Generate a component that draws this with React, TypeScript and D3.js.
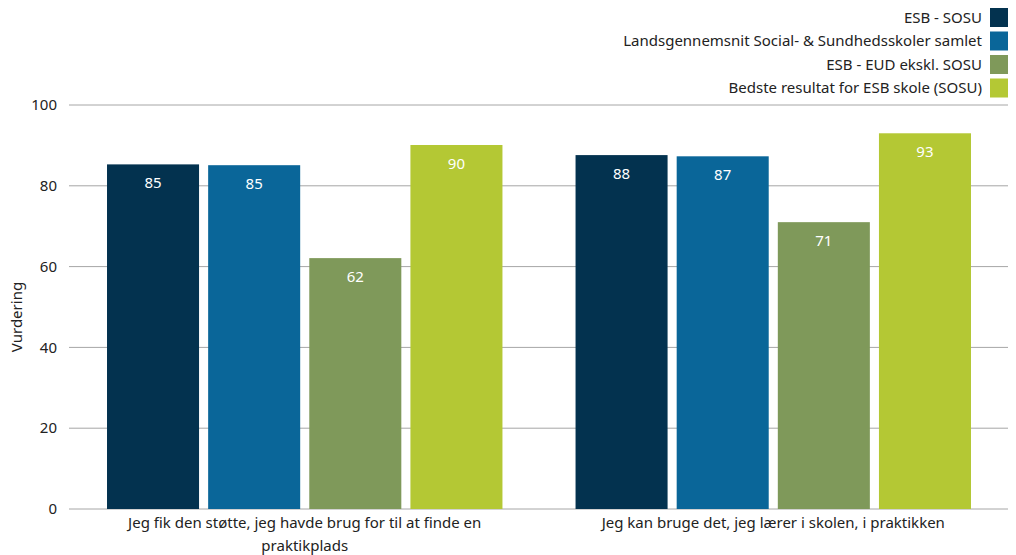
import * as d3 from 'd3'

const categories = [
  ['Jeg fik den støtte, jeg havde brug for til at finde en', 'praktikplads'],
  ['Jeg kan bruge det, jeg lærer i skolen, i praktikken'],
]
const seriesNames = [
  'ESB - SOSU',
  'Landsgennemsnit Social- & Sundhedsskoler samlet',
  'ESB - EUD ekskl. SOSU',
  'Bedste resultat for ESB skole (SOSU)',
]
const esbSosu = [85.3, 87.6]
const landsgennemsnit = [85.1, 87.3]
const esbEud = [62.1, 71.0]
const bedste = [90.1, 93.0]
const yTicks = [0, 20, 40, 60, 80, 100]

const colors = ['#03324f', '#0a6699', '#7f995a', '#b4c834']
const font = "Noto Sans, sans-serif"

export default function App() {
  const width = 1016
  const height = 555
  const margin = { top: 105, right: 8, bottom: 46, left: 70 }
  const series = [esbSosu, landsgennemsnit, esbEud, bedste]

  const x0 = d3.scaleBand<number>()
    .domain(categories.map((_, i) => i))
    .range([margin.left, width - margin.right])
    .paddingInner(0.156)
    .paddingOuter(0.079)
  const x1 = d3.scaleBand<number>()
    .domain(series.map((_, i) => i))
    .range([0, x0.bandwidth()])
    .paddingInner(0.09)
    .paddingOuter(0)
  const y = d3.scaleLinear()
    .domain([0, 100])
    .range([height - margin.bottom, margin.top])

  return (
    <svg width={width} height={height} style={{ position: 'absolute', left: 0, top: 0 }}
      fontFamily={font}>
      {/* gridlines + y ticks */}
      {yTicks.map(t => (
        <g key={t}>
          <line x1={margin.left - 1} x2={width - margin.right} y1={y(t)} y2={y(t)}
            stroke="#a6a6a6" strokeWidth={1} />
          <text x={57} y={y(t)} dy="0.35em" textAnchor="end" fontSize={15} fill="#222">{t}</text>
        </g>
      ))}

      {/* bars */}
      {categories.map((_, ci) => (
        <g key={ci} transform={`translate(${x0(ci)},0)`}>
          {series.map((vals, si) => (
            <g key={si}>
              <rect x={x1(si)} y={y(vals[ci])} width={x1.bandwidth()}
                height={y(0) - y(vals[ci])} fill={colors[si]} />
              <text x={x1(si)! + x1.bandwidth() / 2} y={y(vals[ci]) + 24}
                textAnchor="middle" fontSize={15} fill="#fff">
                {Math.round(vals[ci])}
              </text>
            </g>
          ))}
        </g>
      ))}

      {/* category labels */}
      {categories.map((lines, ci) => (
        <text key={ci} textAnchor="middle" fontSize={15} fill="#222">
          {lines.map((l, li) => (
            <tspan key={li} x={x0(ci)! + x0.bandwidth() / 2} y={y(0) + 19 + li * 23}>{l}</tspan>
          ))}
        </text>
      ))}

      {/* y axis title */}
      <text transform={`translate(22,${(y(0) + y(100)) / 2 + 10}) rotate(-90)`}
        textAnchor="middle" fontSize={15} fill="#222">Vurdering</text>

      {/* legend */}
      {seriesNames.map((name, i) => (
        <g key={name} transform={`translate(0,${8 + i * 23.5})`}>
          <rect x={990} y={0} width={18} height={19} fill={colors[i]} />
          <text x={982} y={9.5} dy="0.35em" textAnchor="end" fontSize={15} fill="#222">{name}</text>
        </g>
      ))}
    </svg>
  )
}
